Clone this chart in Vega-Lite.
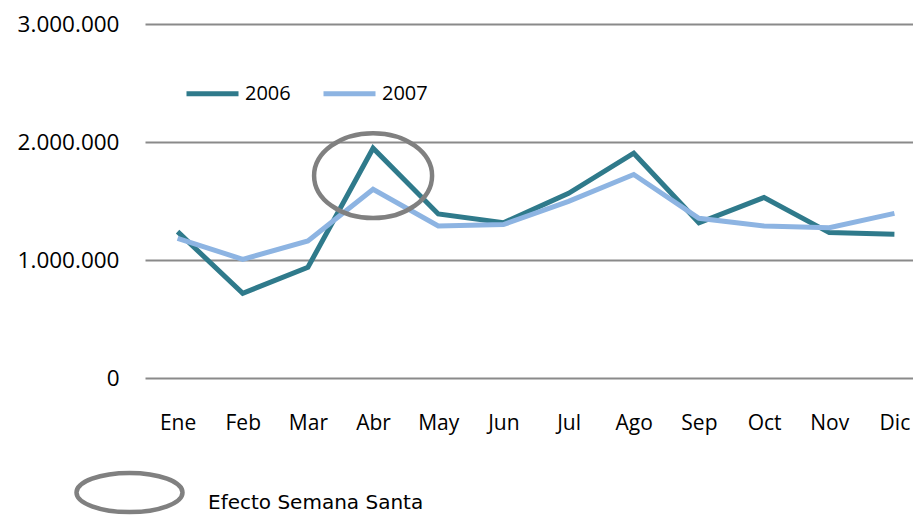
{
  "$schema": "https://vega.github.io/schema/vega-lite/v6.json",
  "autosize": {"type": "none"},
  "padding": {"left": 145, "top": 24, "right": 0, "bottom": 144},
  "width": 782,
  "height": 354,
  "background": "white",
  "config": {
    "view": {"stroke": null},
    "font": "Open Sans",
    "locale": {"number": {"decimal": ",", "thousands": ".", "grouping": [3], "currency": ["", " €"]}}
  },
  "datasets": {
    "ventas": [
      {"mes": "Ene", "anio": "2006", "valor": 1240000},
      {"mes": "Feb", "anio": "2006", "valor": 718000},
      {"mes": "Mar", "anio": "2006", "valor": 938000},
      {"mes": "Abr", "anio": "2006", "valor": 1947000},
      {"mes": "May", "anio": "2006", "valor": 1390000},
      {"mes": "Jun", "anio": "2006", "valor": 1316000},
      {"mes": "Jul", "anio": "2006", "valor": 1565000},
      {"mes": "Ago", "anio": "2006", "valor": 1905000},
      {"mes": "Sep", "anio": "2006", "valor": 1316000},
      {"mes": "Oct", "anio": "2006", "valor": 1530000},
      {"mes": "Nov", "anio": "2006", "valor": 1232000},
      {"mes": "Dic", "anio": "2006", "valor": 1218000},
      {"mes": "Ene", "anio": "2007", "valor": 1184000},
      {"mes": "Feb", "anio": "2007", "valor": 1006000},
      {"mes": "Mar", "anio": "2007", "valor": 1161000},
      {"mes": "Abr", "anio": "2007", "valor": 1600000},
      {"mes": "May", "anio": "2007", "valor": 1288000},
      {"mes": "Jun", "anio": "2007", "valor": 1300000},
      {"mes": "Jul", "anio": "2007", "valor": 1497000},
      {"mes": "Ago", "anio": "2007", "valor": 1725000},
      {"mes": "Sep", "anio": "2007", "valor": 1353000},
      {"mes": "Oct", "anio": "2007", "valor": 1288000},
      {"mes": "Nov", "anio": "2007", "valor": 1274000},
      {"mes": "Dic", "anio": "2007", "valor": 1395000}
    ],
    "nota": [
      {"mes": "Abr", "valor": 1715000, "nota": "Efecto Semana Santa"}
    ]
  },
  "layer": [
    {
      "data": {"name": "ventas"},
      "mark": {"type": "line", "strokeWidth": 5, "strokeJoin": "miter", "strokeCap": "butt"},
      "encoding": {
        "x": {
          "field": "mes", "type": "ordinal", "sort": null,
          "scale": {"type": "point", "padding": 0.5},
          "axis": {"title": null, "domain": false, "ticks": false, "labelAngle": 0,
                   "labelFontSize": 21, "labelColor": "#000000", "labelPadding": 34, "grid": false}
        },
        "y": {
          "field": "valor", "type": "quantitative",
          "scale": {"domain": [0, 3000000], "nice": false},
          "axis": {"title": null, "domain": false, "ticks": false, "values": [0, 1000000, 2000000, 3000000],
                   "format": ",d", "labelFontSize": 22.5, "labelColor": "#000000", "labelPadding": 26,
                   "grid": true, "gridColor": "#8a8a8a", "gridWidth": 2}
        },
        "color": {
          "field": "anio", "type": "nominal",
          "scale": {"domain": ["2006", "2007"], "range": ["#2f7a8b", "#8db4e2"]},
          "legend": {
            "title": null, "orient": "none", "direction": "horizontal",
            "legendX": 39, "legendY": 41, "padding": 0,
            "symbolType": "stroke", "symbolSize": 2704, "symbolStrokeWidth": 5,
            "labelFontSize": 20, "labelColor": "#000000", "labelOffset": 4, "columnPadding": 22
          }
        }
      }
    },
    {
      "data": {"name": "nota"},
      "mark": {
        "type": "point",
        "shape": "M -1 0 A 1 0.72 0 1 1 1 0 A 1 0.72 0 1 1 -1 0 Z",
        "size": 13924, "filled": false, "strokeWidth": 4.5, "opacity": 1
      },
      "encoding": {
        "x": {"field": "mes", "type": "ordinal", "sort": null},
        "y": {"field": "valor", "type": "quantitative"},
        "stroke": {
          "field": "nota", "type": "nominal",
          "scale": {"range": ["#808080"]},
          "legend": {
            "title": null, "orient": "none", "legendX": -71, "legendY": 413, "padding": 0,
            "labelFont": "DejaVu Sans", "labelFontSize": 20, "labelColor": "#000000",
            "labelOffset": 23, "labelBaseline": "top", "labelLimit": 500,
            "symbolType": "M -1 0 A 1 0.37 0 1 1 1 0 A 1 0.37 0 1 1 -1 0 Z",
            "symbolSize": 11236,
            "symbolStrokeWidth": 4.5, "symbolFillColor": "transparent",
            "encode": {"symbols": {"update": {
              "shape": {"value": "M -1 0 A 1 0.37 0 1 1 1 0 A 1 0.37 0 1 1 -1 0 Z"},
              "size": {"value": 11236},
              "strokeWidth": {"value": 4.5},
              "fill": {"value": "transparent"},
              "opacity": {"value": 1}
            }}}
          }
        }
      }
    }
  ],
  "resolve": {"scale": {"x": "shared", "y": "shared"}}
}
